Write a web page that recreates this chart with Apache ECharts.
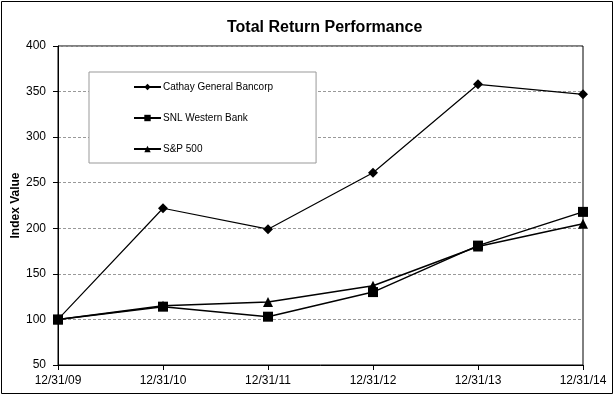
<!DOCTYPE html>
<html>
<head>
<meta charset="utf-8">
<script src="https://cdn.jsdelivr.net/npm/echarts@6/dist/echarts.min.js"></script>
<style>
  html, body { margin: 0; padding: 0; background: #fff; }
  #main { width: 615px; height: 396px; }
</style>
</head>
<body>
<div id="main"></div>
<script>
// chart data
let dates = ['12/31/09', '12/31/10', '12/31/11', '12/31/12', '12/31/13', '12/31/14']
let cathay = [100, 222, 199, 261, 358, 347]
let snlWestern = [100, 114, 103, 130, 181, 218]
let sp500 = [100, 115, 119, 137, 180, 205]

let myChart = echarts.init(document.getElementById('main'))
let font = '"Liberation Sans", Arial, sans-serif'

function lineSeries (name, data, symbol, size, width) {
    return {
        name: name,
        type: 'line',
        data: data,
        symbol: symbol,
        symbolSize: size,
        showAllSymbol: true,
        itemStyle: { color: '#000' },
        lineStyle: { color: '#000', width: width },
        emphasis: { disabled: true },
        animation: false
    }
}

let option = {
    backgroundColor: '#fff',
    animation: false,
    textStyle: { fontFamily: font },
    title: {
        text: 'Total Return Performance',
        left: 222,
        top: 15,
        textStyle: { fontFamily: font, fontSize: 16, fontWeight: 'bold', color: '#000' }
    },
    graphic: [{
        type: 'rect',
        shape: { x: 1.5, y: 1.5, width: 611, height: 392 },
        style: { fill: 'none', stroke: '#000', lineWidth: 1 },
        silent: true
    }],
    grid: {
        left: 58,
        right: 32,
        top: 46,
        bottom: 31,
        outerBoundsMode: 'none',
        containLabel: false,
        show: true,
        borderColor: '#000',
        borderWidth: 1,
        backgroundColor: 'transparent'
    },
    legend: {
        orient: 'vertical',
        left: 89,
        top: 72,
        padding: [9, 43, 8, 44],
        itemGap: 19,
        itemWidth: 27,
        itemHeight: 8,
        backgroundColor: '#fff',
        borderColor: '#999',
        borderWidth: 1,
        borderRadius: 0,
        selectedMode: false,
        textStyle: { fontFamily: font, fontSize: 10, color: '#000', lineHeight: 12, padding: [0, 0, 0, -3] },
        data: ['Cathay General Bancorp', 'SNL Western Bank', 'S&P 500']
    },
    xAxis: {
        type: 'category',
        boundaryGap: false,
        data: dates,
        axisLine: { lineStyle: { color: '#000', width: 1 } },
        axisTick: { show: true, length: 5, lineStyle: { color: '#000' } },
        axisLabel: { color: '#000', fontSize: 12, fontFamily: font, margin: 10, interval: 0 },
        splitLine: { show: false }
    },
    yAxis: {
        type: 'value',
        min: 50,
        max: 400,
        interval: 50,
        name: 'Index Value',
        nameLocation: 'middle',
        nameGap: 36,
        nameMoveOverlap: false,
        nameTextStyle: { fontFamily: font, fontSize: 12, fontWeight: 'bold', color: '#000' },
        axisLine: { show: true, lineStyle: { color: '#000', width: 1 } },
        axisTick: { show: true, length: 5, lineStyle: { color: '#000' } },
        axisLabel: { color: '#000', fontSize: 12, fontFamily: font, margin: 12 },
        splitLine: { show: true, lineStyle: { color: '#999', type: [3, 2], width: 1 } }
    },
    series: [
        lineSeries('Cathay General Bancorp', cathay, 'diamond', 10, 1.2),
        lineSeries('SNL Western Bank', snlWestern, 'rect', 10, 1.5),
        lineSeries('S&P 500', sp500, 'triangle', 10, 1.5)
    ]
}

myChart.setOption(option)
</script>
</body>
</html>
